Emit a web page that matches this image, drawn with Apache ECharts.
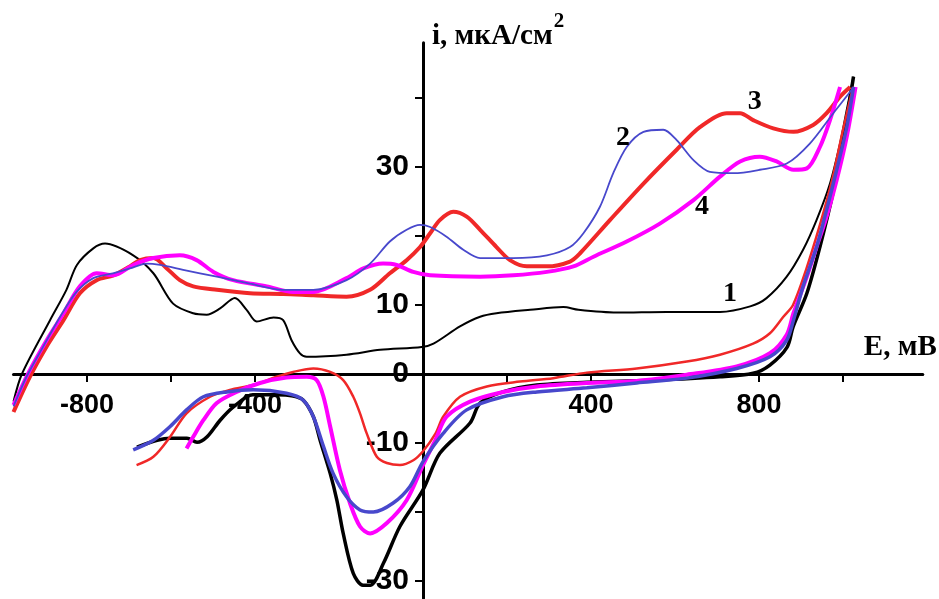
<!DOCTYPE html>
<html><head><meta charset="utf-8">
<script src="https://cdn.jsdelivr.net/npm/echarts@6/dist/echarts.min.js"></script>
<style>html,body{margin:0;padding:0;background:#fff}#c{width:939px;height:599px}</style>
</head><body><div id="c"></div>
<script>
// Ticks and tick labels
const E_TICKS = [-800, -600, -400, 200, 400, 800, 1000];
const E_LABELS = [-800, -400, 400, 800];
const I_TICKS = [-30, -20, -10, 10, 20, 30, 40];
const I_LABELS = [-30, -10, 0, 10, 30];

// Curve 1 (black)
const curve1Anodic = [[-975,-4.0],[-955,0],[-888,7.8],[-849,12.2],[-824,15.8],[-785,18.2],[-757,18.9],[-690,17.2],[-642,14.6],[-595,10.2],[-547,8.8],[-515,8.6],[-483,9.5],[-448,11.0],[-420,9.3],[-396,7.6],[-356,8.2],[-333,7.8],[-313,4.9],[-293,3.0],[-277,2.5],[-182,2.8],[-102,3.5],[-3,3.9],[25,4.4],[88,6.9],[136,8.3],[175,8.8],[255,9.3],[334,9.7],[370,9.3],[461,8.9],[580,9.0],[707,9.0],[779,9.8],[818,11.0],[866,14.1],[905,18.0],[937,22.3],[969,27.6],[993,33.4],[1009,38.3],[1025,43.1]];
const curve1Cathodic = [[1025,43.1],[1000,33.6],[976,26.2],[945,18.4],[914,11.7],[881,6.8],[867,3.9],[826,1.3],[786,0.1],[707,-0.4],[548,-0.9],[390,-1.2],[271,-1.6],[190,-2.6],[136,-4.2],[112,-7.1],[40,-11.5],[0,-16.8],[-55,-22.1],[-94,-27.4],[-125,-30.6],[-143,-30.6],[-166,-28.9],[-190,-23.1],[-205,-18.3],[-221,-14.4],[-245,-9.6],[-261,-6.2],[-285,-3.8],[-309,-3.2],[-348,-3.0],[-405,-3.0],[-452,-4.8],[-483,-6.7],[-514,-9.1],[-538,-9.9],[-562,-9.3],[-602,-9.3],[-633,-9.6],[-681,-10.6]];

// Curve 2 (blue)
const curve2Anodic = [[-975,-4.7],[-944,-0.4],[-904,4.0],[-864,8.3],[-825,11.9],[-785,13.9],[-745,14.5],[-698,15.3],[-658,16.0],[-626,15.8],[-571,15.1],[-491,14.1],[-412,13.1],[-333,12.2],[-261,12.2],[-182,13.6],[-126,16.0],[-79,19.2],[-39,20.9],[-7,21.6],[17,21.3],[56,19.9],[96,18.0],[136,16.8],[215,16.8],[295,17.2],[350,18.4],[382,20.4],[421,24.2],[453,29.1],[485,32.9],[525,35.1],[572,35.4],[604,33.9],[644,31.0],[683,29.3],[739,29.1],[802,29.6],[866,30.5],[921,33.4],[977,37.8],[1017,40.9],[1025,41.6]];
const curve2Cathodic = [[1025,41.6],[1009,35.8],[985,29.6],[961,23.8],[937,18.4],[905,12.7],[882,7.8],[866,4.9],[826,2.5],[747,0.8],[628,-0.6],[509,-1.3],[390,-2.0],[271,-2.6],[191,-3.3],[104,-5.2],[48,-8.6],[0,-12.7],[-31,-16.3],[-71,-18.7],[-118,-20.0],[-150,-19.7],[-182,-17.8],[-214,-14.4],[-237,-10.5],[-261,-6.2],[-285,-3.8],[-325,-2.8],[-404,-2.3],[-467,-2.6],[-523,-3.3],[-563,-5.2],[-602,-7.6],[-642,-9.6],[-690,-11.0]];

// Curve 3 (red)
const curve3Anodic = [[-975,-5.5],[-936,-0.4],[-896,4.0],[-856,7.8],[-817,11.7],[-777,13.6],[-737,14.3],[-698,15.6],[-674,16.5],[-642,16.8],[-610,15.3],[-579,13.6],[-547,12.7],[-491,12.2],[-412,11.7],[-333,11.6],[-261,11.4],[-182,11.2],[-126,12.2],[-79,14.6],[-39,16.5],[-7,18.4],[17,20.4],[40,22.3],[72,23.5],[104,22.8],[136,20.9],[175,18.4],[207,16.5],[247,15.6],[295,15.6],[350,16.3],[374,17.5],[445,22.3],[525,27.6],[604,32.5],[660,35.8],[723,37.8],[755,37.8],[786,36.8],[834,35.6],[882,35.1],[929,36.1],[961,37.8],[993,40.2],[1017,41.6]];
const curve3Cathodic = [[1024,41.6],[1000,35.4],[974,28.1],[945,21.6],[912,15.1],[881,10.0],[858,8.3],[826,5.9],[786,4.4],[707,2.8],[628,1.8],[509,0.8],[390,0.2],[310,-0.6],[231,-1.1],[152,-1.8],[88,-3.3],[48,-6.2],[30,-8.6],[0,-11.2],[-23,-12.5],[-55,-13.2],[-86,-12.9],[-110,-12.0],[-134,-8.6],[-150,-5.7],[-166,-3.3],[-190,-0.9],[-221,0.3],[-261,0.8],[-309,0.3],[-348,-0.4],[-404,-1.6],[-460,-2.3],[-507,-3.3],[-563,-5.7],[-602,-9.1],[-642,-12.0],[-682,-13.2]];

// Curve 4 (magenta)
const curve4Anodic = [[-975,-4.5],[-940,0.1],[-896,4.9],[-856,8.8],[-817,12.7],[-777,14.6],[-737,14.3],[-690,15.8],[-642,16.8],[-579,17.2],[-539,16.5],[-499,14.8],[-452,13.6],[-372,12.7],[-309,11.9],[-261,11.9],[-182,13.9],[-142,15.3],[-95,16.0],[-63,15.8],[-23,14.8],[17,14.3],[136,14.1],[215,14.3],[295,14.8],[358,15.6],[406,17.0],[485,19.2],[564,21.8],[644,25.2],[707,28.6],[755,30.8],[802,31.5],[842,30.8],[882,29.6],[914,29.8],[945,32.9],[969,36.8],[993,41.6]];
const curve4Cathodic = [[1030,41.6],[1009,34.4],[985,28.1],[961,22.8],[937,18.4],[914,14.1],[882,8.8],[866,5.7],[826,3.0],[747,1.1],[628,-0.1],[509,-1.0],[390,-1.3],[271,-1.8],[191,-2.6],[112,-4.0],[56,-6.2],[30,-9.5],[0,-13.2],[-39,-18.3],[-86,-21.6],[-126,-23.1],[-150,-22.1],[-174,-18.7],[-198,-13.9],[-221,-7.6],[-237,-3.3],[-253,-0.9],[-277,-0.4],[-325,-0.5],[-388,-1.3],[-444,-2.6],[-491,-4.2],[-523,-6.7],[-547,-9.1],[-563,-10.8]];

// Curve number annotations [E, i, text]
const curveLabels = [[731, 11.6, '1'], [476, 34.2, '2'], [790, 39.4, '3'], [664, 24.2, '4']];

const BLACK = '#000000', BLUE = '#4848cc', RED = '#f02828', MAGENTA = '#ff00ff';
const SANS = '"Liberation Sans", Arial, sans-serif';
const SERIF = '"Liberation Serif", "Times New Roman", serif';

// Grid geometry (pixels) and ranges
const G_LEFT = 13.5, G_RIGHT = 16.2, G_TOP = 42.8, G_BOTTOM = 0.75;
const X_MIN = -975, X_MAX = 1190, Y_MIN = -32.5, Y_MAX = 48;
const W = 939, H = 599;
const plotW = W - G_LEFT - G_RIGHT, plotH = H - G_TOP - G_BOTTOM;
// offsets to put the axes through the origin (labels follow the line)
const xAxisOffset = -(plotH * (0 - Y_MIN) / (Y_MAX - Y_MIN));
const yAxisOffset = -(plotW * (0 - X_MIN) / (X_MAX - X_MIN));

function line(name, data, color, width) {
  return {
    name: name, type: 'line', data: data, showSymbol: false, symbol: 'none',
    smooth: 0.3, lineStyle: { color: color, width: width }, z: 3
  };
}

const chart = echarts.init(document.getElementById('c'));
chart.setOption({
  animation: false,
  backgroundColor: '#ffffff',
  grid: { left: G_LEFT, right: G_RIGHT, top: G_TOP, bottom: G_BOTTOM, outerBoundsMode: 'none' },
  xAxis: {
    type: 'value', min: X_MIN, max: X_MAX, position: 'bottom', offset: xAxisOffset,
    axisLine: { onZero: false, lineStyle: { color: '#000', width: 3 } },
    axisTick: { customValues: E_TICKS, length: 8, lineStyle: { color: '#000', width: 2 } },
    axisLabel: { customValues: E_LABELS, margin: 18, fontSize: 27, fontWeight: 'bold',
      fontFamily: SANS, color: '#000' },
    splitLine: { show: false },
    name: 'E, мВ', nameLocation: 'end', nameGap: 14,
    nameTextStyle: { fontFamily: SERIF, fontWeight: 'bold', fontSize: 29, color: '#000',
      align: 'right', verticalAlign: 'bottom', padding: [0, 0, 12, 0] }
  },
  yAxis: {
    type: 'value', min: Y_MIN, max: Y_MAX, position: 'left', offset: yAxisOffset,
    axisLine: { onZero: false, lineStyle: { color: '#000', width: 3 } },
    axisTick: { customValues: I_TICKS, length: 8, lineStyle: { color: '#000', width: 2 } },
    axisLabel: { customValues: I_LABELS, margin: 14, fontSize: 30, fontWeight: 'bold',
      fontFamily: SANS, color: '#000' },
    splitLine: { show: false },
    name: '{m|i, мкА/см}{s|2}', nameLocation: 'end', nameGap: 6,
    nameTextStyle: { align: 'left', verticalAlign: 'middle', padding: [0, 0, 0, 9],
      rich: {
        m: { fontFamily: SERIF, fontWeight: 'bold', fontSize: 29, lineHeight: 29, color: '#000' },
        s: { fontFamily: SERIF, fontWeight: 'bold', fontSize: 21, lineHeight: 21, color: '#000', padding: [0, 0, 30, 1] }
      } }
  },
  series: [
    line('1a', curve1Anodic, BLACK, 2),
    line('1c', curve1Cathodic, BLACK, 3.5),
    line('3a', curve3Anodic, RED, 4),
    line('3c', curve3Cathodic, RED, 2.5),
    line('4a', curve4Anodic, MAGENTA, 4),
    line('4c', curve4Cathodic, MAGENTA, 4),
    line('2a', curve2Anodic, BLUE, 1.8),
    line('2c', curve2Cathodic, BLUE, 3.5),
    {
      name: 'labels', type: 'scatter', symbolSize: 1, z: 5, silent: true,
      itemStyle: { color: 'rgba(0,0,0,0)' },
      data: curveLabels,
      label: { show: true, position: 'inside', formatter: p => p.data[2],
        fontFamily: SERIF, fontWeight: 'bold', fontSize: 28, color: '#000000',
        textBorderWidth: 0, textBorderColor: 'transparent', opacity: 1 }
    }
  ]
});
</script>
</body></html>
